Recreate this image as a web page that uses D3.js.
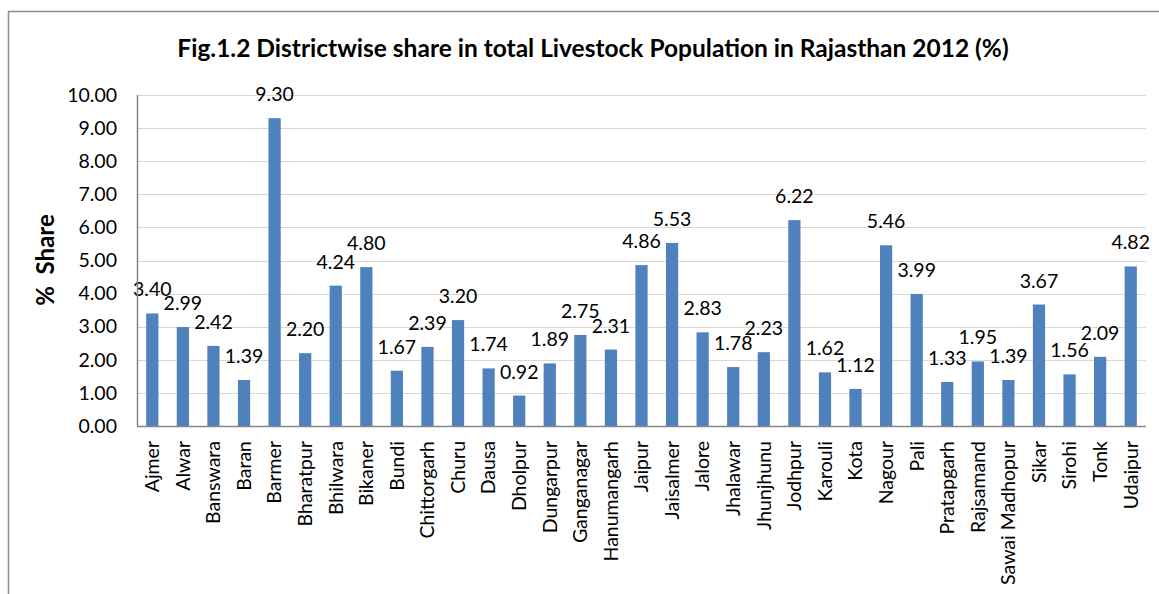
<!DOCTYPE html>
<html>
<script src="https://cdn.jsdelivr.net/npm/d3@7"></script>
<style>
  body { margin: 0; background: #fff; }
  text { font-family: Lato, "Open Sans", sans-serif; fill: #000; }
</style>
<body>
<svg width="1159" height="594"></svg>
<script>
var districts = ["Ajmer", "Alwar", "Banswara", "Baran", "Barmer", "Bharatpur", "Bhilwara", "Bikaner",
                 "Bundi", "Chittorgarh", "Churu", "Dausa", "Dholpur", "Dungarpur", "Ganganagar",
                 "Hanumangarh", "Jaipur", "Jaisalmer", "Jalore", "Jhalawar", "Jhunjhunu", "Jodhpur",
                 "Karouli", "Kota", "Nagour", "Pali", "Pratapgarh", "Rajsamand", "Sawai Madhopur",
                 "Sikar", "Sirohi", "Tonk", "Udaipur"];
var share = [3.40, 2.99, 2.42, 1.39, 9.30, 2.20, 4.24, 4.80, 1.67, 2.39, 3.20, 1.74, 0.92, 1.89, 2.75,
             2.31, 4.86, 5.53, 2.83, 1.78, 2.23, 6.22, 1.62, 1.12, 5.46, 3.99, 1.33, 1.95, 1.39,
             3.67, 1.56, 2.09, 4.82];
var yTicks = [0, 1, 2, 3, 4, 5, 6, 7, 8, 9, 10];
var title = "Fig.1.2 Districtwise share in total Livestock Population in Rajasthan 2012 (%)";
var yTitle = "%  Share";

var svg = d3.select("svg"),
    pL = 137, pR = 1146, pT = 95, pB = 426;

// chart frame (only top and left edges fall inside the picture)
svg.append("rect")
   .attr("x", 8.5).attr("y", 11.5).attr("width", 1300).attr("height", 800)
   .attr("fill", "none").attr("stroke", "#8c8c8c").attr("stroke-width", 1.5);

var x = d3.scaleBand().domain(districts).range([pL, pR])
          .paddingInner(0.6).paddingOuter(0.3);
var y = d3.scaleLinear().domain([0, 10]).range([pB, pT]);

// gridlines
svg.append("g").selectAll("line").data(yTicks.slice(1)).join("line")
   .attr("x1", pL).attr("x2", pR)
   .attr("y1", function(d) { return Math.round(y(d)) + 0.5; })
   .attr("y2", function(d) { return Math.round(y(d)) + 0.5; })
   .attr("stroke", "#d9d9d9").attr("stroke-width", 1);

// y axis labels
var yAxis = svg.append("g").attr("transform", "translate(" + pL + ",0)")
   .call(d3.axisLeft(y).tickValues(yTicks).tickFormat(d3.format(".2f")).tickSize(0).tickPadding(20));
yAxis.select(".domain").remove();
yAxis.selectAll("text").style("font-family", "Lato").style("font-size", "19.5px").attr("fill", "#000");

// bars
svg.append("g").selectAll("rect").data(share).join("rect")
   .attr("x", function(d, i) { return x(districts[i]); })
   .attr("y", function(d) { return y(d); })
   .attr("width", x.bandwidth())
   .attr("height", function(d) { return y(0) - y(d); })
   .attr("fill", "#4f81bd");

// value labels
svg.append("g").selectAll("text").data(share).join("text")
   .attr("x", function(d, i) { return x(districts[i]) + x.bandwidth() / 2; })
   .attr("y", function(d) { return y(d) - 17; })
   .attr("text-anchor", "middle")
   .style("font-size", "19.5px")
   .text(function(d) { return d.toFixed(2); });

// axis lines
svg.append("line").attr("x1", pL + 0.5).attr("x2", pL + 0.5).attr("y1", pT).attr("y2", pB)
   .attr("stroke", "#868686").attr("stroke-width", 1.5);
svg.append("line").attr("x1", pL).attr("x2", pR).attr("y1", pB + 0.5).attr("y2", pB + 0.5)
   .attr("stroke", "#868686").attr("stroke-width", 1.5);

// category labels
svg.append("g").selectAll("text").data(districts).join("text")
   .attr("transform", function(d) {
     return "translate(" + (x(d) + x.bandwidth() / 2) + "," + (pB + 15) + ") rotate(-90)";
   })
   .attr("text-anchor", "end")
   .attr("dy", "0.35em")
   .style("font-size", "19.5px")
   .text(function(d) { return d; });

// titles
svg.append("text").attr("x", 593).attr("y", 57).attr("text-anchor", "middle")
   .style("font-size", "24.5px").style("font-weight", "bold").text(title);

svg.append("text").attr("transform", "translate(54,260) rotate(-90)")
   .attr("text-anchor", "middle").style("white-space", "pre")
   .style("font-size", "24px").style("font-weight", "bold").text(yTitle);
</script>
</body>
</html>
